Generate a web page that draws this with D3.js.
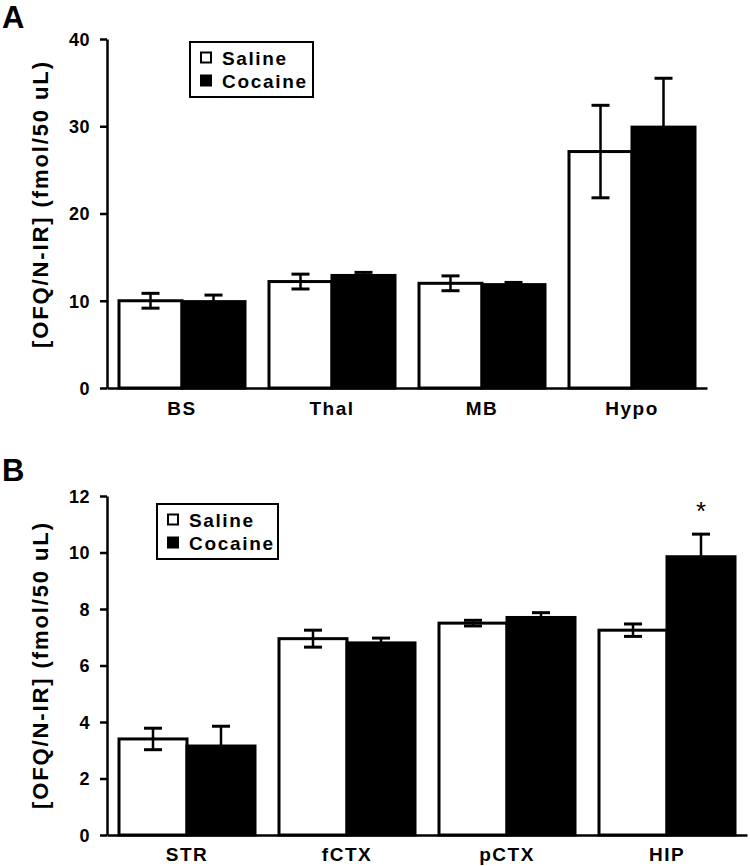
<!DOCTYPE html>
<html>
<head>
<meta charset="utf-8">
<script src="https://cdn.jsdelivr.net/npm/d3@7"></script>
<style>
  html, body { margin: 0; padding: 0; background: #fff; }
  text { font-family: "Liberation Sans", Arial, sans-serif; font-weight: bold; fill: #000; }
</style>
</head>
<body>
<svg id="chart" width="750" height="866"></svg>
<script>
// ---------- data ----------
const seriesNames = ["Saline", "Cocaine"];

const catsA = ["BS", "Thal", "MB", "Hypo"];
const salineA = [10.0, 12.2, 12.0, 27.1];
const salineErrA = [0.85, 0.85, 0.85, 5.3];
const cocaineA = [9.9, 12.9, 11.85, 29.9];
const cocaineErrA = [0.75, 0.35, 0.25, 5.6];
const ticksA = [0, 10, 20, 30, 40];

const catsB = ["STR", "fCTX", "pCTX", "HIP"];
const salineB = [3.4, 6.95, 7.5, 7.25];
const salineErrB = [0.38, 0.3, 0.1, 0.22];
const cocaineB = [3.15, 6.8, 7.7, 9.85];
const cocaineErrB = [0.7, 0.17, 0.17, 0.8];
const ticksB = [0, 2, 4, 6, 8, 10, 12];
const significantB = [false, false, false, true];

const yTitle = "[OFQ/N-IR] (fmol/50 uL)";

// ---------- drawing ----------
const svg = d3.select("#chart");

function panel(cfg) {
  const g = svg.append("g");
  const x = d3.scaleBand().domain(cfg.cats).range(cfg.xRange)
    .paddingInner(cfg.padIn).paddingOuter(cfg.padOut);
  const xs = d3.scaleBand().domain(seriesNames).range([0, x.bandwidth()]);
  const y = d3.scaleLinear().domain([0, cfg.yMax]).range(cfg.yRange);

  const rows = [];
  cfg.cats.forEach((c, i) => {
    rows.push({cat: c, s: "Saline", v: cfg.sal[i], e: cfg.salErr[i]});
    rows.push({cat: c, s: "Cocaine", v: cfg.coc[i], e: cfg.cocErr[i]});
  });

  // bars
  g.selectAll("rect.bar").data(rows).enter().append("rect")
    .attr("class", "bar")
    .attr("x", d => x(d.cat) + xs(d.s))
    .attr("y", d => y(d.v))
    .attr("width", xs.bandwidth())
    .attr("height", d => y(0) - y(d.v))
    .attr("fill", d => d.s === "Saline" ? "#fff" : "#000")
    .attr("stroke", "#000")
    .attr("stroke-width", 3);

  // error bars
  const eb = g.selectAll("g.err").data(rows).enter().append("g").attr("class", "err");
  const cx = d => x(d.cat) + xs(d.s) + xs.bandwidth() / 2;
  eb.append("line")
    .attr("x1", cx).attr("x2", cx)
    .attr("y1", d => y(d.v + d.e)).attr("y2", d => y(d.v - d.e))
    .attr("stroke", "#000").attr("stroke-width", 2.5);
  eb.append("line")
    .attr("x1", d => cx(d) - 9).attr("x2", d => cx(d) + 9)
    .attr("y1", d => y(d.v + d.e)).attr("y2", d => y(d.v + d.e))
    .attr("stroke", "#000").attr("stroke-width", 3);
  eb.append("line")
    .attr("x1", d => cx(d) - 9).attr("x2", d => cx(d) + 9)
    .attr("y1", d => y(d.v - d.e)).attr("y2", d => y(d.v - d.e))
    .attr("stroke", "#000").attr("stroke-width", 3);

  // significance
  if (cfg.sig) {
    g.selectAll("text.sig").data(rows.filter((d, i) => d.s === "Cocaine" && cfg.sig[Math.floor(i / 2)]))
      .enter().append("text").attr("class", "sig")
      .attr("x", cx).attr("y", d => y(d.v + d.e) - 14)
      .attr("text-anchor", "middle")
      .style("font-weight", "normal")
      .style("font-size", "26px")
      .text("*");
  }

  // y axis
  const yAxis = d3.axisLeft(y).tickValues(cfg.ticks).tickSize(7).tickSizeOuter(0).tickPadding(10);
  const ya = g.append("g").attr("transform", `translate(${cfg.xRange[0]},0)`).call(yAxis);
  ya.select(".domain").attr("stroke", "#000").attr("stroke-width", 2.5);
  ya.selectAll(".tick line").attr("stroke", "#000").attr("stroke-width", 2.5);
  ya.selectAll(".tick text").style("font-size", "18px").style("font-family", "Liberation Sans, Arial, sans-serif")
    .style("font-weight", "bold").attr("letter-spacing", "0.5px").attr("dy", "0.36em");

  // x axis
  const xAxis = d3.axisBottom(x).tickSize(0).tickPadding(cfg.xLabelPad);
  const xa = g.append("g").attr("transform", `translate(0,${cfg.yRange[0]})`).call(xAxis);
  xa.select(".domain").attr("stroke", "#000").attr("stroke-width", 2.5);
  xa.selectAll(".tick text").style("font-size", "19px").style("font-family", "Liberation Sans, Arial, sans-serif")
    .style("font-weight", "bold").attr("letter-spacing", "1.5px");

  // y title
  g.append("text")
    .attr("transform", `translate(${cfg.titleX},${cfg.titleY}) rotate(-90)`)
    .attr("text-anchor", "middle")
    .style("font-size", "22px")
    .attr("textLength", cfg.titleLen)
    .attr("lengthAdjust", "spacing")
    .text(yTitle);

  // panel letter
  g.append("text").attr("x", 2).attr("y", cfg.letterY)
    .style("font-size", "31px").text(cfg.letter);

  // legend
  const L = cfg.legend;
  g.append("rect").attr("x", L.x).attr("y", L.y).attr("width", L.w).attr("height", L.h)
    .attr("fill", "#fff").attr("stroke", "#000").attr("stroke-width", 2);
  seriesNames.forEach((s, i) => {
    const yy = L.y + 10 + i * 23;
    g.append("rect").attr("x", L.x + 11).attr("y", yy + 0.5).attr("width", 10).attr("height", 10)
      .attr("fill", s === "Saline" ? "#fff" : "#000").attr("stroke", "#000").attr("stroke-width", 2);
    g.append("text").attr("x", L.x + 32).attr("y", yy + 12.5)
      .style("font-size", "19px")
      .attr("textLength", s === "Saline" ? 64 : 84)
      .attr("lengthAdjust", "spacing")
      .text(s);
  });
}

panel({
  cats: catsA, sal: salineA, salErr: salineErrA, coc: cocaineA, cocErr: cocaineErrA,
  ticks: ticksA, yMax: 40, xRange: [107, 707], yRange: [388, 39],
  padIn: 0.16, padOut: 0.08, xLabelPad: 14,
  titleX: 48, titleY: 205, titleLen: 286,
  letter: "A", letterY: 28,
  legend: {x: 190, y: 42, w: 123, h: 55}
});

panel({
  cats: catsB, sal: salineB, salErr: salineErrB, coc: cocaineB, cocErr: cocaineErrB,
  ticks: ticksB, yMax: 12, xRange: [107, 747], yRange: [835, 496],
  padIn: 0.15, padOut: 0.075, xLabelPad: 13,
  titleX: 48, titleY: 666, titleLen: 286,
  sig: significantB,
  letter: "B", letterY: 481,
  legend: {x: 157, y: 504, w: 121, h: 55}
});
</script>
</body>
</html>
